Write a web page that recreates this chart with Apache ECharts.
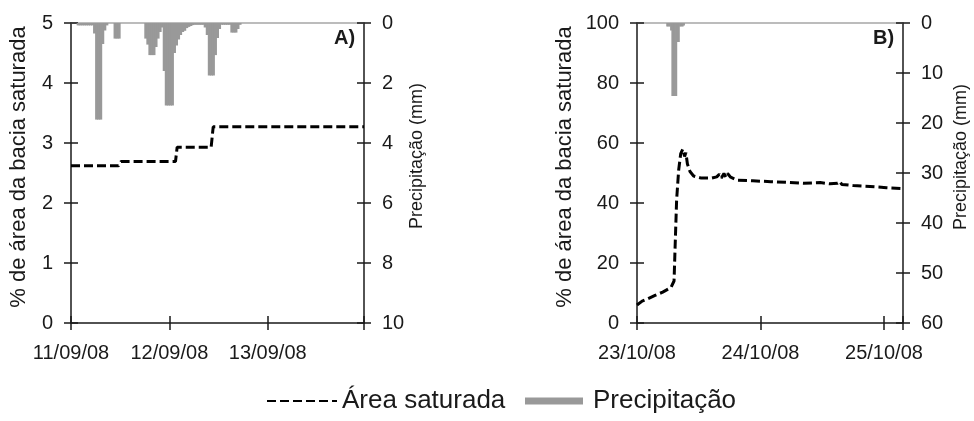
<!DOCTYPE html>
<html>
<head>
<meta charset="utf-8">
<title>Área saturada e precipitação</title>
<script src="https://cdn.jsdelivr.net/npm/echarts@6/dist/echarts.min.js"></script>
<style>
    html, body { margin: 0; padding: 0; background: #fff; }
    #chart { width: 974px; height: 421px; }
</style>
</head>
<body>
<div id="chart"></div>
<script>
// eixo x em horas desde o início de cada período
var diasA = ['11/09/08', '12/09/08', '13/09/08'];
var diasB = ['23/10/08', '24/10/08', '25/10/08'];

// A) área saturada (%)
var horasSatA = [0, 11.6, 12.2, 25.5, 25.9, 34.2, 34.7, 71.5];
var satA = [2.62, 2.62, 2.69, 2.69, 2.93, 2.93, 3.27, 3.27];

// A) precipitação (mm), início de cada intervalo de 30 min
var horasChuvaA = [1.5, 2, 2.5, 3, 3.5, 4, 4.5, 5, 5.5, 6, 6.5, 7, 7.5, 8, 8.5,
    10.5, 11, 11.5,
    18, 18.5, 19, 19.5, 20, 20.5, 21, 21.5, 22, 22.5, 23, 23.5, 24, 24.5, 25, 25.5,
    26, 26.5, 27, 27.5, 28, 28.5, 29, 29.5, 30, 30.5, 31, 31.5, 32, 32.5, 33, 33.5,
    34, 34.5, 35, 35.5, 36, 36.5, 37, 37.5, 38, 38.5, 39, 39.5, 40, 40.5, 41];
var chuvaA = [0.08, 0.08, 0.08, 0.08, 0.08, 0.08, 0.08, 0.08, 0.35, 3.22, 3.22, 3.22, 0.7, 0.25, 0.08,
    0.52, 0.52, 0.52,
    0.52, 0.72, 1.07, 1.07, 1.07, 0.8, 0.52, 0.3, 0.15, 1.6, 2.75, 2.75, 2.75, 2.75, 1.0, 0.75,
    0.55, 0.4, 0.3, 0.26, 0.17, 0.13, 0.1, 0.07, 0.06, 0.06, 0.06, 0.06, 0.06, 0.15, 0.4, 1.75,
    1.75, 1.75, 1.07, 0.5, 0.2, 0.06, 0.06, 0.06, 0.06, 0.06, 0.32, 0.32, 0.32, 0.2, 0.06];

// B) área saturada (%)
var horasSatB = [0, 1, 2, 3.5, 5, 6.6, 7.2, 7.4, 7.7, 8.1, 8.5, 8.9, 9.25, 9.5, 9.8, 10.3, 11,
    12.5, 14.5, 15.5, 16, 16.4, 16.9, 17.3, 17.6, 18.2, 19.5, 22.5, 26, 29, 32.4, 35.6,
    37.5, 39, 39.4, 39.8, 42, 45.3, 48.5, 51.7];
var satB = [6, 7.3, 8, 9.2, 10.3, 11.8, 14, 25, 41, 51, 56.5, 58, 55.5, 56.8, 53, 50.5, 49,
    48.3, 48.3, 48.7, 49.6, 48.3, 49.8, 48.6, 49.8, 48.6, 47.6, 47.4, 47.1, 46.9, 46.6, 46.8,
    46.4, 46.6, 47.2, 46.2, 45.8, 45.5, 45.1, 44.8];

// B) precipitação (mm), início de cada intervalo de 15 min
var horasChuvaB = [5.75, 6, 6.25, 6.5, 6.75, 7, 7.25, 7.5, 7.75, 8, 8.25, 8.5, 8.75, 9];
var chuvaB = [0.7, 0.7, 0.7, 1.5, 14.6, 14.6, 14.6, 14.6, 3.8, 3.8, 0.7, 0.7, 0.7, 0.5];

var fonte = '"Liberation Sans", Arial, sans-serif';
var corTexto = '#1a1a1a';
var corEixo = '#1a1a1a';
var corChuva = '#999999';

function pares(xs, ys, desloc) {
    var out = [];
    for (var i = 0; i < xs.length; i++) {
        out.push([xs[i] + desloc, ys[i]]);
    }
    return out;
}

function eixoX(grid, max, dias) {
    return {
        type: 'value', gridIndex: grid, position: 'bottom',
        min: 0, max: max, interval: 24,
        axisLine: {onZero: false, lineStyle: {color: corEixo, width: 1.5}},
        axisTick: {length: 7, lineStyle: {color: corEixo, width: 1.5}},
        axisLabel: {
            margin: 20, color: corTexto, fontSize: 20, fontFamily: fonte,
            formatter: function (v) {
                return v % 24 === 0 ? (dias[v / 24] || '') : '';
            }
        },
        splitLine: {show: false}
    };
}

// marcas para dentro, para que cruzem a linha do eixo
function eixoXDentro(grid, max) {
    return {
        type: 'value', gridIndex: grid, position: 'bottom',
        min: 0, max: max, interval: 24,
        axisLine: {show: false, onZero: false},
        axisTick: {inside: true, length: 7, lineStyle: {color: corEixo, width: 1.5}},
        axisLabel: {show: false},
        splitLine: {show: false}
    };
}

// linha cinza no topo, base das barras de chuva
function eixoXTopo(grid, max) {
    return {
        type: 'value', gridIndex: grid, position: 'top',
        min: 0, max: max,
        axisLine: {onZero: false, lineStyle: {color: '#a6a6a6', width: 1.5}},
        axisTick: {show: false},
        axisLabel: {show: false},
        splitLine: {show: false}
    };
}

// desloc: deslocamento do nome para cima (px)
function eixoY(grid, lado, max, intervalo, nome, gap, tamNome, desloc, invertido) {
    return {
        type: 'value', gridIndex: grid, position: lado,
        min: 0, max: max, interval: intervalo, inverse: invertido,
        name: nome, nameLocation: 'middle', nameGap: gap,
        nameTextStyle: {color: corTexto, fontSize: tamNome, fontFamily: fonte,
            padding: [0, 0, 0, desloc * 2]},
        axisLine: {show: true, onZero: false, lineStyle: {color: corEixo, width: 1.5}},
        axisTick: {show: true, length: 7, lineStyle: {color: corEixo, width: 1.5}},
        axisLabel: {margin: 18, color: corTexto, fontSize: 20, fontFamily: fonte},
        splitLine: {show: false}
    };
}

function eixoYDentro(grid, lado, max, intervalo, invertido) {
    return {
        type: 'value', gridIndex: grid, position: lado,
        min: 0, max: max, interval: intervalo, inverse: invertido,
        axisLine: {show: false, onZero: false},
        axisTick: {show: true, inside: true, length: 7, lineStyle: {color: corEixo, width: 1.5}},
        axisLabel: {show: false},
        splitLine: {show: false}
    };
}

var tracoLinha = {color: '#000', width: 3, type: [9, 4]};

var option = {
    animation: false,
    backgroundColor: '#fff',
    textStyle: {fontFamily: fonte},
    title: [
        {text: 'A)', left: 334, top: 28, padding: 0,
            textStyle: {fontSize: 20, fontWeight: 'bold', color: corTexto, fontFamily: fonte}},
        {text: 'B)', left: 873, top: 28, padding: 0,
            textStyle: {fontSize: 20, fontWeight: 'bold', color: corTexto, fontFamily: fonte}}
    ],
    legend: [
        {
            data: ['Área saturada'], left: 266, top: 388, padding: 0,
            itemWidth: 70, itemHeight: 14,
            itemStyle: {color: 'rgba(0,0,0,0)', borderWidth: 0, opacity: 0},
            textStyle: {fontSize: 26, color: corTexto, fontFamily: fonte}
        },
        {
            data: [{name: 'Precipitação', icon: 'rect'}], left: 525, top: 388, padding: 0,
            itemWidth: 58, itemHeight: 7,
            textStyle: {fontSize: 26, color: corTexto, fontFamily: fonte, padding: [0, 0, 0, 5]}
        }
    ],
    grid: [
        {left: 71, top: 23, width: 293, height: 300},
        {left: 637, top: 23, width: 266, height: 300}
    ],
    xAxis: [
        eixoX(0, 71.5, diasA),
        eixoXDentro(0, 71.5),
        eixoXTopo(0, 71.5),
        eixoX(1, 51.7, diasB),
        eixoXDentro(1, 51.7),
        eixoXTopo(1, 51.7)
    ],
    yAxis: [
        eixoY(0, 'left', 5, 1, '% de área da bacia saturada', 41, 22, 6, false),
        eixoYDentro(0, 'left', 5, 1, false),
        eixoY(0, 'right', 10, 2, 'Precipitação (mm)', 41, 18, 17, true),
        eixoYDentro(0, 'right', 10, 2, true),
        eixoY(1, 'left', 100, 20, '% de área da bacia saturada', 61, 22, 6, false),
        eixoYDentro(1, 'left', 100, 20, false),
        eixoY(1, 'right', 60, 10, 'Precipitação (mm)', 49, 18, 16, true),
        eixoYDentro(1, 'right', 60, 10, true)
    ],
    series: [
        {
            name: 'Precipitação', type: 'bar', xAxisIndex: 2, yAxisIndex: 2,
            barWidth: 3, itemStyle: {color: corChuva},
            data: pares(horasChuvaA, chuvaA, 0.25)
        },
        {
            name: 'Área saturada', type: 'line', xAxisIndex: 0, yAxisIndex: 0,
            symbol: 'none', lineStyle: tracoLinha, itemStyle: {color: '#000'}, z: 5,
            data: pares(horasSatA, satA, 0)
        },
        {
            name: 'Precipitação', type: 'bar', xAxisIndex: 5, yAxisIndex: 6,
            barWidth: 2, itemStyle: {color: corChuva},
            data: pares(horasChuvaB, chuvaB, 0.125)
        },
        {
            name: 'Área saturada', type: 'line', xAxisIndex: 3, yAxisIndex: 4,
            symbol: 'none', lineStyle: tracoLinha, itemStyle: {color: '#000'}, z: 5,
            data: pares(horasSatB, satB, 0)
        }
    ]
};

var myChart = echarts.init(document.getElementById('chart'));
myChart.setOption(option);
</script>
</body>
</html>
